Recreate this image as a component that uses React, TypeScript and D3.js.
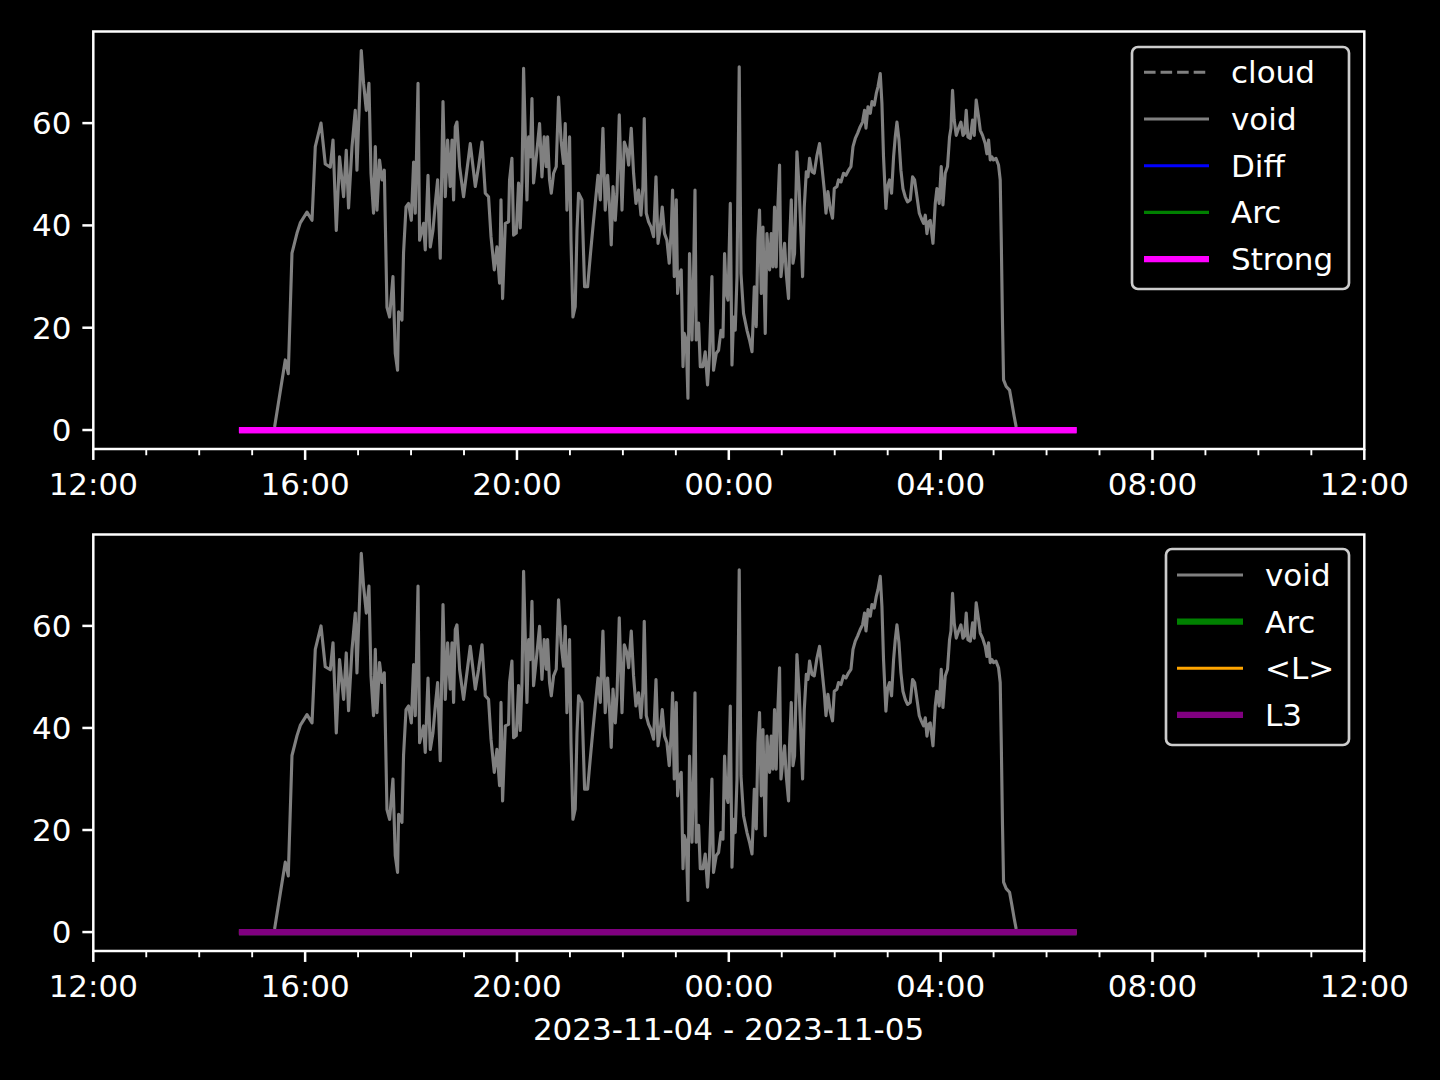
import React from "react";
import * as d3 from "d3";

// ---------- DATA ----------
// minutes after 2023-11-04 12:00 (UTC clock used for display)
const startUtc = Date.UTC(2023, 10, 4, 12, 0);
const endUtc = Date.UTC(2023, 10, 5, 12, 0);

const voidMinutes = [
  205.4, 217.5, 220.9, 225.1, 230.8, 234.5, 242.1, 247.8, 251.5, 258, 262.8, 268.5, 271.6, 275.3, 279,
  283.6, 286.6, 289.2, 293.1, 296.8, 298.7, 303.6, 306.2, 309.3, 312.3, 314.6, 317.5, 319.5, 321.4,
  324.3, 327.1, 329.7, 332.7, 335.7, 339.5, 342.1, 344.7, 345.9, 349.7, 351.5, 354.3, 357.2, 360.3,
  362.9, 364.8, 367.9, 369.7, 374.2, 376.1, 379.2, 381.8, 384.8, 387.5, 390.1, 393.1, 396.2, 398.8,
  401.4, 404.4, 406.4, 408.2, 410.1, 412, 415, 419.5,
  427.1, 432.8, 436.5, 440.4, 444.1, 447.8, 450.6, 454.3, 457.3, 460.3, 461.9, 463.7, 466.8, 470.5,
  471.6, 474.3, 476.2, 479.2, 481.8, 483.7, 485.7, 487.5, 491.3, 493.2, 495.1, 497, 498.8, 501.9,
  505.6, 508.3, 510.9, 513.2, 514.7, 516.9, 518.9, 521.5, 524.5, 527.1, 529.9, 532.8, 534.7, 536.6,
  539.6, 541.2, 543.4, 546, 548, 549.8, 553.6, 556.6, 560, 563, 566.1, 568.7, 571.8, 574.4, 577.4,
  580, 582.7, 584.9, 586.8, 588.8, 591.4, 593.3, 595.9, 599, 601.6, 604.6, 606.5, 609.5, 612.1,
  614.8, 617.8, 620.5, 622.7, 624.2, 626.5, 629.1, 631.8, 634.8, 637.5, 639.8, 642.4, 644.6, 647.2,
  649.9, 652.5, 654.8, 656.3, 658.2, 660.5, 662, 664.2, 666.1, 668.1, 669.5, 671.8, 673.7, 675.5,
  678.3, 680.1, 681.7, 683.1, 685.8, 687.7,
  690.7, 693.3, 695.9, 698.2, 700.9, 702.7, 705.8, 708.4, 711.1, 713.4, 715.2, 717.1, 719.1, 721.7,
  723.6, 725.4, 727.3, 729.3, 731.8, 733.8, 736.7, 740.6, 743.5, 746.3, 748.9, 751.1, 753, 754.8,
  756.8, 758.7, 761.3, 763.2, 766.2, 768.1, 770, 771.8, 773.7, 775.7, 777.5, 779.1, 781.4, 783.2,
  785.1, 787.7, 788.8, 790.8, 792.7, 794.5, 797.2, 799.8, 801.7, 803.6, 805.5, 807.8, 809.7, 811.5,
  814.2, 816.8, 819.9, 822.8, 825.5, 828.2, 830.1, 832.3, 834.9, 837.5, 839.5, 842.5, 844.3, 847.1,
  850, 852.7, 855.7, 858.4, 860.7, 863.3, 865.9, 868.9, 871.5, 873.8, 875.4, 877.7, 880.3, 882.2,
  884.8, 887.1, 889, 891.6, 893.5, 895.3, 898, 899.8, 902.1, 904.4, 906.7, 908.6, 910.5, 912.8, 915,
  917.3, 919.9, 922.5, 925.6, 928.2, 930.5, 933.2, 935.8, 938.1, 940.7, 942.6, 944.5, 946.3, 948.2,
  951.3, 953.9, 955.8, 958.4, 960.7, 962.6, 965.2, 967.8, 970.1, 971.7, 973.5, 975.4, 977.7, 980.3,
  983, 985.3, 987.1, 989, 990.9, 993.6, 996.2, 998.1, 1000.3, 1003, 1004.9, 1007.5, 1010.5, 1012.4,
  1014.3, 1016.2, 1018.1, 1019.9, 1022.7, 1025.6, 1027.5, 1028.7, 1030.1, 1031.3, 1034.3, 1038.1,
  1040.8, 1043.4, 1045.6,
];

const voidValues = [
  0.6, 13.7, 11, 34.6, 38.5, 40.5, 42.6, 41, 55.4, 60, 52, 51.4, 56.7, 39, 53.4,
  45.6, 54.7, 43.4, 55.4, 62.5, 50.8, 74.2, 67.8, 62.5, 67.8, 50.2, 42.4, 55.4, 43,
  52.8, 48.9, 50.8, 24, 22.1, 30, 15, 11.7, 23.1, 21.5, 34.6, 43.6, 44.3, 41,
  52.4, 42.4, 67.8, 37.1, 40.4, 35.2, 49.8, 35.8, 39, 44.3, 48.9, 33.6, 64.2, 45.6,
  56.7, 47.6, 56.7, 45, 59.3, 60.2, 51.5, 45.6,
  56, 47.6, 51.5, 56.3, 46.3, 45.6, 37.8, 31.3, 35.8, 28.7, 45, 25.7, 40.4, 40.7,
  48.9, 53.1, 38.1, 38.5, 48.3, 39.5, 48.9, 70.7, 45, 57.3, 53.4, 64.8, 48.3, 53.4,
  59.9, 49.5, 57.3, 51.5, 57.3, 48.9, 46.3, 50.2, 51.5, 65.1, 56.7, 52.1, 59.9, 43,
  57.3, 37.1, 22.1, 24.1, 39, 46.3, 45, 28, 28, 33.9, 39.7, 44.3, 49.8, 45, 59,
  43, 49.8, 43.6, 36.2, 47.6, 41, 46.3, 61.6, 43, 56.3, 54.7, 51.8, 59, 50.2,
  44.3, 46.9, 42, 47.6, 60.9, 42.4, 40.7, 39.7, 37.8, 49.5, 36.5, 39.7, 43.6, 38.4,
  37.1, 32.6, 39, 46.9, 30, 45, 26.7, 30.6, 31.3, 12.4, 18.9, 17.6, 6.2, 34.5,
  17.6, 30.6, 46.9, 17.6, 20.9, 12.4,
  12.4, 15.3, 8.8, 15, 30, 11.7, 15, 15.6, 19.5, 18.2, 34.5, 26.7, 25.4, 44.3,
  12.7, 22.1, 19.5, 30, 71, 30.6, 22.8, 19.5, 17.6, 15.3, 28, 20.2, 37.1, 43,
  26.7, 39.7, 18.9, 38.4, 31.3, 38.4, 31.9, 43.6, 31.9, 44.3, 51.8, 30, 33.9, 36.5,
  30.6, 25.7, 36.5, 45, 32.6, 34.5, 54.4, 46.9, 38.4, 30, 43.6, 50.5, 49.5, 53.1,
  50.5, 50.2, 53.7, 56, 51.5, 46.9, 42.4, 46.6, 43.3, 41.4, 47.2, 47.6, 48.9, 48.5,
  50.2, 49.8, 50.8, 51.5, 55.4, 57, 58, 59.3, 60.2, 62.5, 59, 63.2, 61.9, 64.2,
  63.5, 65.8, 67.1, 69.7, 63.8, 53.4, 43.3, 47.6, 48.9, 46.3, 53.4, 57.3, 60.2, 56.7, 50.8,
  47.2, 45.6, 44.6, 45, 49.5, 48.9, 45.6, 42.4, 41.4, 40.4, 42, 38.4, 40.7, 41,
  36.5, 44.3, 47.2, 44.3, 51.5, 44, 50.2, 51.5, 57.3, 59, 66.4, 60.6, 57.6, 59,
  60.2, 57.6, 58, 62.5, 57.3, 57, 60.6, 57.6, 64.5, 61.2, 58.6, 57.6, 56, 54,
  56.7, 52.8, 53.4, 52.8, 53.1, 51.8, 48.9, 37.1, 20.9, 9.8, 8.5, 7.8,
  5.2, 2.6, 0.6,
];

// flat zero-valued series (Diff, Arc, Strong, <L>, L3)
const flatMinutes = [165, 1114];
const flatValues = [0, 0];

const yTicks = [0, 20, 40, 60];
const xLabel = "2023-11-04 - 2023-11-05";

const topLegendNames = ["cloud", "void", "Diff", "Arc", "Strong"];
const bottomLegendNames = ["void", "Arc", "<L>", "L3"];

// ---------- STYLES ----------
const PT = 225 / 72;
const styles: Record<string, { color: string; width: number; dash?: string }> = {
  cloud: { color: "#808080", width: 1 * PT, dash: `${3.7 * PT},${1.6 * PT}` },
  void: { color: "#808080", width: 1 * PT },
  Diff: { color: "#0000ff", width: 1 * PT },
  ArcThin: { color: "#008000", width: 1 * PT },
  Strong: { color: "#ff00ff", width: 2 * PT },
  Arc: { color: "#008000", width: 2 * PT },
  "<L>": { color: "#ffa500", width: 1 * PT },
  L3: { color: "#800080", width: 2 * PT },
};

const FONT = "DejaVu Sans, Verdana, sans-serif";
const FS = 31;

const toDate = (m: number) => new Date(startUtc + m * 60000);
const voidData = voidMinutes.map((m, i) => ({ t: toDate(m), v: voidValues[i] }));
const flatData = flatMinutes.map((m, i) => ({ t: toDate(m), v: flatValues[i] }));

const X0 = 93.3;
const X1 = 1364.3;

type LegendItem = { label: string; style: { color: string; width: number; dash?: string } };

function Panel({
  top,
  bottom,
  flatStyles,
  legend,
  legendBox,
}: {
  top: number;
  bottom: number;
  flatStyles: { color: string; width: number; dash?: string }[];
  legend: LegendItem[];
  legendBox: { x: number; y: number; w: number; h: number; hx1: number; hx2: number; tx: number; row0: number; step: number };
}) {
  const x = d3.scaleUtc().domain([new Date(startUtc), new Date(endUtc)]).range([X0, X1]);
  const vmax = d3.max(voidValues) as number;
  const vmin = 0;
  const pad = (vmax - vmin) * 0.05;
  const y = d3.scaleLinear().domain([vmin - pad, vmax + pad]).range([bottom, top]);
  const line = d3
    .line<{ t: Date; v: number }>()
    .x((d) => x(d.t))
    .y((d) => y(d.v));
  const major = d3.utcHour.every(4)!.range(new Date(startUtc), new Date(endUtc + 1));
  const minor = d3.utcHour.range(new Date(startUtc), new Date(endUtc + 1)).filter((d) => d.getUTCHours() % 4 !== 0);
  const fmt = d3.utcFormat("%H:%M");
  const tickW = 0.8 * PT;
  return (
    <g>
      <defs>
        <clipPath id={`clip${top}`}>
          <rect x={X0} y={top} width={X1 - X0} height={bottom - top} />
        </clipPath>
      </defs>
      <g clipPath={`url(#clip${top})`}>
        {flatStyles.map((s, i) => (
          <path key={i} d={line(flatData) || ""} fill="none" stroke={s.color} strokeWidth={s.width} />
        ))}
        <path
          d={line(voidData) || ""}
          fill="none"
          stroke={styles.void.color}
          strokeWidth={styles.void.width}
          strokeLinejoin="round"
        />
        {flatStyles.length > 0 && (
          <path
            d={line(flatData) || ""}
            fill="none"
            stroke={flatStyles[flatStyles.length - 1].color}
            strokeWidth={flatStyles[flatStyles.length - 1].width}
          />
        )}
      </g>
      {/* spines */}
      <rect x={X0} y={top} width={X1 - X0} height={bottom - top} fill="none" stroke="#ffffff" strokeWidth={tickW} />
      {/* y ticks */}
      {yTicks.map((t) => (
        <g key={t}>
          <line x1={X0 - 3.5 * PT} x2={X0} y1={y(t)} y2={y(t)} stroke="#fff" strokeWidth={tickW} />
          <text x={X0 - 7 * PT} y={y(t) + 11} textAnchor="end" fontSize={FS} fill="#fff" fontFamily={FONT}>
            {t}
          </text>
        </g>
      ))}
      {/* x ticks */}
      {major.map((d, i) => (
        <g key={i}>
          <line x1={x(d)} x2={x(d)} y1={bottom} y2={bottom + 3.5 * PT} stroke="#fff" strokeWidth={tickW} />
          <text x={x(d)} y={bottom + 45.5} textAnchor="middle" fontSize={FS} fill="#fff" fontFamily={FONT}>
            {fmt(d)}
          </text>
        </g>
      ))}
      {minor.map((d, i) => (
        <line key={i} x1={x(d)} x2={x(d)} y1={bottom} y2={bottom + 2 * PT} stroke="#fff" strokeWidth={0.6 * PT} />
      ))}
      {/* legend */}
      <rect
        x={legendBox.x}
        y={legendBox.y}
        width={legendBox.w}
        height={legendBox.h}
        rx={6}
        ry={6}
        fill="#000"
        fillOpacity={0.8}
        stroke="#cccccc"
        strokeWidth={1 * PT * 0.85}
      />
      {legend.map((it, i) => {
        const cy = legendBox.row0 + i * legendBox.step;
        return (
          <g key={it.label}>
            <line
              x1={legendBox.hx1}
              x2={legendBox.hx2}
              y1={cy}
              y2={cy}
              stroke={it.style.color}
              strokeWidth={it.style.width}
              strokeDasharray={it.style.dash}
            />
            <text x={legendBox.tx} y={cy + 11} fontSize={FS} fill="#fff" fontFamily={FONT}>
              {it.label}
            </text>
          </g>
        );
      })}
    </g>
  );
}

export default function App() {
  const topLegend: LegendItem[] = topLegendNames.map((n) => ({
    label: n,
    style: n === "Arc" ? styles.ArcThin : styles[n],
  }));
  const bottomLegend: LegendItem[] = bottomLegendNames.map((n) => ({ label: n, style: styles[n] }));
  return (
    <div style={{ position: "absolute", left: 0, top: 0 }}>
      <svg width={1440} height={1080} style={{ display: "block", background: "#000" }}>
        <rect x={0} y={0} width={1440} height={1080} fill="#000" />
        <Panel
          top={31.5}
          bottom={449}
          flatStyles={[styles.Diff, styles.ArcThin, styles.Strong]}
          legend={topLegend}
          legendBox={{ x: 1132, y: 47, w: 217, h: 242, hx1: 1144, hx2: 1209, tx: 1231, row0: 72.3, step: 46.7 }}
        />
        <Panel
          top={534.5}
          bottom={951}
          flatStyles={[styles.Arc, styles["<L>"], styles.L3]}
          legend={bottomLegend}
          legendBox={{ x: 1166, y: 549, w: 183, h: 196, hx1: 1177, hx2: 1243, tx: 1265, row0: 575, step: 46.6 }}
        />
        <text x={728.5} y={1040} textAnchor="middle" fontSize={FS} fill="#fff" fontFamily={FONT}>
          {xLabel}
        </text>
      </svg>
    </div>
  );
}
